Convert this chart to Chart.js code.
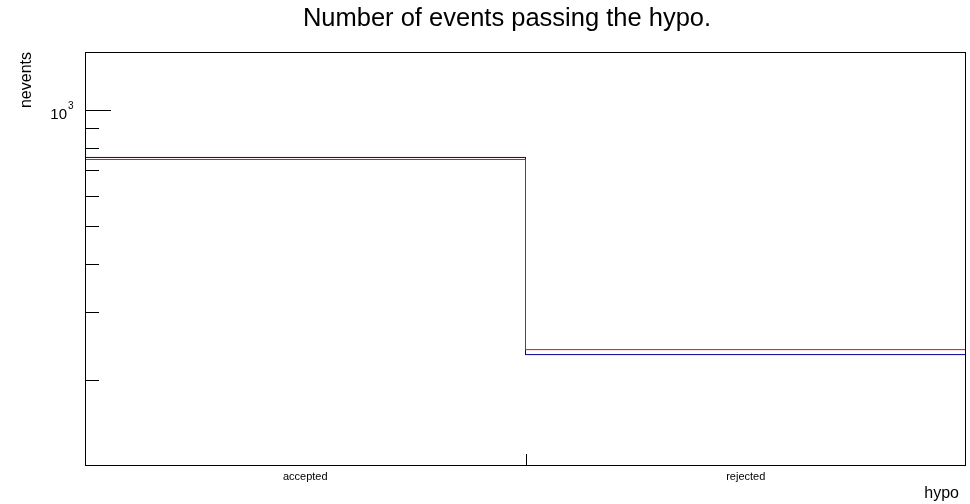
<!DOCTYPE html>
<html>
<head>
<meta charset="utf-8">
<script src="https://cdn.jsdelivr.net/npm/chart.js@4"></script>
<style>
html,body{margin:0;padding:0;background:#fff;}
canvas{display:block;}
</style>
</head>
<body>
<canvas id="c" width="970" height="504" style="width:970px;height:504px"></canvas>
<script>
// ---- data ----
const categories = ["accepted", "rejected"];
const binEdges = [0, 1, 2];
const seriesBlue = [754, 233];
const seriesRed = [745, 240];
const yMajorTicks = [1000];
const yMinorTicks = [200, 300, 400, 500, 600, 700, 800, 900];
const yMajorLabels = ["10", "3"]; // base, exponent
const xTickEdges = [1];
const yRange = [120, 1413];

// histogram outline: one point per bin low edge at bin value, plus closing point
function stepPoints(vals) {
  const pts = [{x: binEdges[0], y: vals[0]}];
  for (let i = 1; i < vals.length; i++) {
    pts.push({x: binEdges[i], y: vals[i - 1]});
    pts.push({x: binEdges[i], y: vals[i]});
  }
  pts.push({x: binEdges[binEdges.length - 1], y: vals[vals.length - 1]});
  return pts;
}

const FONT = '"Liberation Sans", Arial, Helvetica, sans-serif';

const decor = {
  id: 'decor',
  afterDatasetsDraw(chart) {
    const ctx = chart.ctx;
    const a = chart.chartArea;
    const xs = chart.scales.x, ys = chart.scales.y;
    ctx.save();
    // frame
    ctx.strokeStyle = '#000';
    ctx.lineWidth = 1;
    ctx.strokeRect(Math.round(a.left) + 0.5, Math.round(a.top) + 0.5,
                   Math.round(a.right - a.left) - 1, Math.round(a.bottom - a.top) - 1);
    // y ticks
    ctx.beginPath();
    yMajorTicks.forEach(v => {
      const y = Math.round(ys.getPixelForValue(v)) + 0.5;
      ctx.moveTo(a.left, y); ctx.lineTo(a.left + 26, y);
    });
    yMinorTicks.forEach(v => {
      const y = Math.round(ys.getPixelForValue(v)) + 0.5;
      ctx.moveTo(a.left, y); ctx.lineTo(a.left + 14, y);
    });
    // x ticks
    xTickEdges.forEach(v => {
      const x = Math.round(xs.getPixelForValue(v)) + 0.5;
      ctx.moveTo(x, a.bottom); ctx.lineTo(x, a.bottom - 12);
    });
    ctx.stroke();
    // y major label 10^3
    ctx.fillStyle = '#000';
    yMajorTicks.forEach(v => {
      const y = ys.getPixelForValue(v);
      ctx.font = '15px ' + FONT;
      ctx.textAlign = 'right';
      ctx.textBaseline = 'alphabetic';
      const expW = 7;
      ctx.fillText(yMajorLabels[0], a.left - 11 - expW, y + 9);
      ctx.font = '10px ' + FONT;
      ctx.textAlign = 'left';
      ctx.fillText(yMajorLabels[1], a.left - 11 - expW + 1, y - 1);
    });
    // category labels
    ctx.font = '11px ' + FONT;
    ctx.textAlign = 'center';
    ctx.textBaseline = 'alphabetic';
    categories.forEach((c, i) => {
      const x = xs.getPixelForValue((binEdges[i] + binEdges[i + 1]) / 2);
      ctx.fillText(c, x, 480);
    });
    // title
    ctx.font = '25.5px ' + FONT;
    ctx.fillText('Number of events passing the hypo.', 507, 26);
    // x axis title
    ctx.font = '16px ' + FONT;
    ctx.textAlign = 'right';
    ctx.fillText('hypo', 959, 498);
    // y axis title
    ctx.save();
    ctx.translate(31, 52);
    ctx.rotate(-Math.PI / 2);
    ctx.textAlign = 'right';
    ctx.fillText('nevents', 0, 0);
    ctx.restore();
    ctx.restore();
  }
};

new Chart(document.getElementById('c'), {
  type: 'line',
  data: {
    datasets: [
      {label: 'red', data: stepPoints(seriesRed), borderColor: '#ff0000', borderWidth: 1, pointRadius: 0, fill: false, tension: 0},
      {label: 'blue', data: stepPoints(seriesBlue), borderColor: '#000099', borderWidth: 1, pointRadius: 0, fill: false, tension: 0}
    ]
  },
  options: {
    responsive: false,
    animation: false,
    devicePixelRatio: 1,
    layout: {padding: {left: 85, top: 52, right: 4, bottom: 38}},
    plugins: {legend: {display: false}, tooltip: {enabled: false}, title: {display: false}},
    scales: {
      x: {type: 'linear', min: binEdges[0], max: binEdges[binEdges.length - 1], display: false},
      y: {type: 'logarithmic', min: yRange[0], max: yRange[1], display: false}
    }
  },
  plugins: [decor]
});
</script>
</body>
</html>
